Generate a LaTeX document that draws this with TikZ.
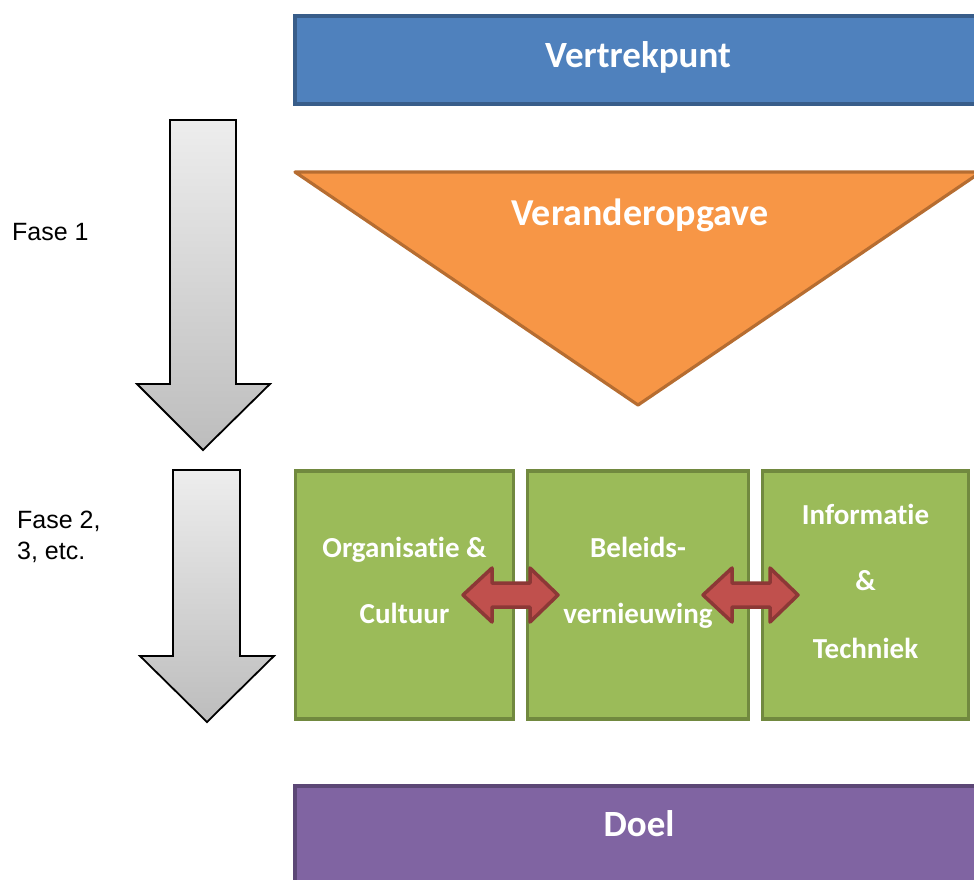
\documentclass[tikz,border=0pt]{standalone}
\usepackage{fontspec}
\setmainfont{Carlito}[RawFeature={-liga;-clig;-calt;-dlig}]
\newfontfamily\arialf{Liberation Sans}
\newcommand{\tibreak}{t\kern0pt i}
\definecolor{bluefill}{HTML}{4F81BD}
\definecolor{blueline}{HTML}{385D8A}
\definecolor{orangefill}{HTML}{F79646}
\definecolor{orangeline}{HTML}{B66D31}
\definecolor{greenfill}{HTML}{9BBB59}
\definecolor{greenline}{HTML}{71893F}
\definecolor{purplefill}{HTML}{8064A2}
\definecolor{purpleline}{HTML}{5C4776}
\definecolor{redfill}{HTML}{C0504D}
\definecolor{redline}{HTML}{8C3836}
\begin{document}
\begin{tikzpicture}[x=1pt,y=-1pt,
  bar/.style={draw=#1line, fill=#1fill, line width=3.2pt, minimum width=686pt, inner sep=0pt},
  boxg/.style={draw=greenline, fill=greenfill, line width=3.2pt, inner sep=0pt, minimum height=248pt},
  bigtxt/.style={font=\bfseries\fontsize{37}{44}\selectfont, text=white, inner sep=0pt, anchor=base},
  boxtxt/.style={font=\bfseries\fontsize{29}{34}\selectfont, text=white, inner sep=0pt, anchor=base},
  fasetxt/.style={font=\arialf\fontsize{25}{30}\selectfont, text=black, inner sep=0pt, anchor=base west},
  downarrow/.style={draw=black, line width=1.8pt, top color=black!7, bottom color=black!26, line join=miter},
  dblarrow/.style={draw=redline, fill=redfill, line width=3.5pt, line join=round}
]
\useasboundingbox (0,0) rectangle (974,879);
\clip (0,0) rectangle (974,879);

% top bar
\node[bar=blue, minimum height=88pt] (start) at (638,60) {};
\node[bigtxt] (starttxt) at (638,67) {Vertrekpunt};

% triangle
\draw[draw=orangeline, fill=orangefill, line width=3.2pt, line join=round]
  (295,172) -- (981,172) -- (638,405) -- cycle;
\node[bigtxt, font=\bfseries\fontsize{38}{44}\selectfont] (tritxt) at (640,225) {Veranderopgave};

% down arrows
\draw[downarrow] (170,120) -- (236,120) -- (236,384) -- (270,384) -- (203,450)
  -- (137,384) -- (170,384) -- cycle;
\draw[downarrow] (173,470) -- (240,470) -- (240,656) -- (274,656) -- (207,722)
  -- (140,656) -- (173,656) -- cycle;

% phase labels
\node[fasetxt] (f1) at (12,240) {Fase 1};
\node[fasetxt] (f2a) at (17,528) {Fase 2,};
\node[fasetxt] (f2b) at (17,559) {3, etc.};

% green boxes
\node[boxg, minimum width=218pt] (b1) at (404.5,595) {};
\node[boxg, minimum width=221pt] (b2) at (638,595) {};
\node[boxg, minimum width=206pt] (b3) at (865.5,595) {};

\node[boxtxt] (b1a) at (404.5,557) {Organisa\tibreak e \&};
\node[boxtxt] (b1b) at (404.5,623) {Cultuur};
\node[boxtxt] (b2a) at (638,557) {Beleids-};
\node[boxtxt] (b2b) at (638,623) {vernieuwing};
\node[boxtxt] (b3a) at (865.5,524) {Informa\tibreak e};
\node[boxtxt] (b3b) at (865.5,590) {\&};
\node[boxtxt] (b3c) at (865.5,658) {Techniek};

% double arrows
\draw[dblarrow] (463,595) -- (492,568) -- (492,583) -- (530,583) -- (530,568) -- (558,595)
  -- (530,622) -- (530,607) -- (492,607) -- (492,622) -- cycle;
\draw[dblarrow] (703,595) -- (732,568) -- (732,583) -- (770,583) -- (770,568) -- (798,595)
  -- (770,622) -- (770,607) -- (732,607) -- (732,622) -- cycle;

% bottom bar
\node[bar=purple, minimum height=100pt] (goal) at (638,836) {};
\node[bigtxt] (goaltxt) at (639,836) {Doel};
\end{tikzpicture}
\end{document}
